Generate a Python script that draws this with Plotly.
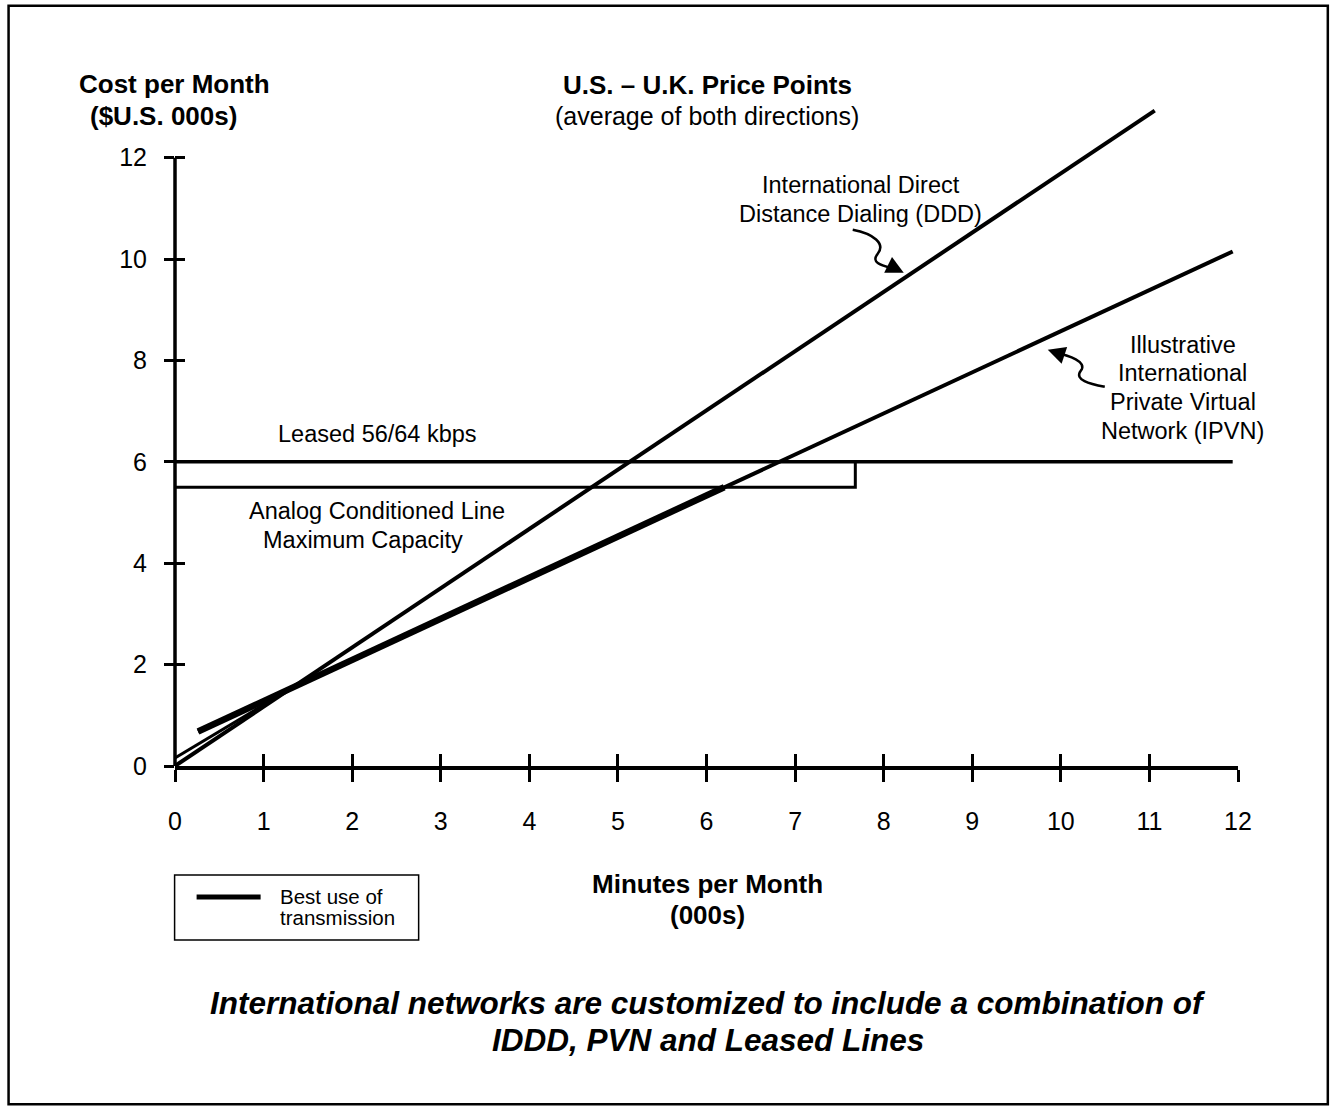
import plotly.graph_objects as go

# ---- data (minutes per month in 000s, cost per month in $US 000s) ----
ddd_minutes = [0, 11.06]
ddd_cost = [0, 12.93]

ipvn_minutes = [0.26, 11.94]
ipvn_cost = [0.68, 10.15]

leased_minutes = [0, 11.94]
leased_cost = [6.0, 6.0]

analog_minutes = [0, 7.68, 7.68]
analog_cost = [5.5, 5.5, 6.0]

# best use of transmission: low-volume dialing, then the PVN up to the analog line
best_low_minutes = [0, 1.3]
best_low_cost = [0.16, 1.52]
best_minutes = [0.26, 6.2]
best_cost = [0.68, 5.5]

x_ticks = list(range(0, 13))
y_ticks = list(range(0, 13, 2))

# ---- page geometry ----
W_PX, H_PX = 1332, 1108
L, R = 175.4, 1238.2
T, B = 107.3, 766.0
PW, PH = R - L, B - T


def px(x):
    return (x - L) / PW


def py(y):
    return (B - y) / PH


FONT = "Liberation Sans, Arial, Helvetica, sans-serif"
BLACK = "#000000"

fig = go.Figure()

fig.add_trace(go.Scatter(x=leased_minutes, y=leased_cost, mode="lines",
                         line=dict(color=BLACK, width=3.5), showlegend=False))
fig.add_trace(go.Scatter(x=analog_minutes, y=analog_cost, mode="lines",
                         line=dict(color=BLACK, width=3), showlegend=False))
fig.add_trace(go.Scatter(x=ddd_minutes, y=ddd_cost, mode="lines",
                         line=dict(color=BLACK, width=4), showlegend=False))
fig.add_trace(go.Scatter(x=ipvn_minutes, y=ipvn_cost, mode="lines",
                         line=dict(color=BLACK, width=4), showlegend=False))
fig.add_trace(go.Scatter(x=best_low_minutes, y=best_low_cost, mode="lines",
                         line=dict(color=BLACK, width=3), showlegend=False))
fig.add_trace(go.Scatter(x=best_minutes, y=best_cost, mode="lines",
                         line=dict(color=BLACK, width=6.5), showlegend=False))
# carrier for the crossing tick marks
fig.add_trace(go.Scatter(x=[None], y=[None], xaxis="x2", yaxis="y2",
                         showlegend=False, hoverinfo="skip"))

fig.update_layout(
    width=W_PX, height=H_PX,
    margin=dict(l=L, r=W_PX - R, t=T, b=H_PX - B, pad=0),
    paper_bgcolor="white", plot_bgcolor="white",
    font=dict(family=FONT, color=BLACK),
    showlegend=False,
    xaxis=dict(range=[0, 12], tickvals=x_ticks, ticks="outside", ticklen=12,
               tickwidth=3, tickcolor=BLACK, showline=True, linewidth=4,
               linecolor=BLACK, showgrid=False, zeroline=False,
               tickfont=dict(size=25, family=FONT), ticklabelstandoff=18),
    xaxis2=dict(range=[0, 12], tickvals=x_ticks, ticks="inside", ticklen=12,
                tickwidth=3, tickcolor=BLACK, overlaying="x", anchor="y2",
                showticklabels=False, showline=False, showgrid=False,
                zeroline=False),
    yaxis=dict(range=[0, 13], tickvals=y_ticks, ticks="outside", ticklen=10,
               tickwidth=3, tickcolor=BLACK, showline=False, showgrid=False,
               zeroline=False, tickfont=dict(size=25, family=FONT),
               ticklabelstandoff=12),
    yaxis2=dict(range=[0, 13], tickvals=y_ticks, ticks="inside", ticklen=10,
                tickwidth=3, tickcolor=BLACK, overlaying="y", anchor="x2",
                showticklabels=False, showline=False, showgrid=False,
                zeroline=False),
)

shapes = [
    # vertical cost axis, running up to the last tick only
    dict(type="line", xref="paper", yref="y", x0=0, x1=0, y0=0, y1=12,
         line=dict(color=BLACK, width=3.5)),
    # outer frame
    dict(type="rect", xref="paper", yref="paper", x0=px(9), x1=px(1328),
         y0=py(1104), y1=py(6), line=dict(color=BLACK, width=2.5)),
    # key box
    dict(type="rect", xref="paper", yref="paper", x0=px(175), x1=px(419),
         y0=py(940), y1=py(875), line=dict(color=BLACK, width=1.5)),
    dict(type="line", xref="paper", yref="paper", x0=px(197), x1=px(261),
         y0=py(897), y1=py(897), line=dict(color=BLACK, width=5)),
]


def path_from_px(points):
    # points: list of ("M"/"C"/"S"/"L", [(x, y), ...]) in page pixels
    parts = []
    for cmd, pts in points:
        coords = " ".join(f"{px(x):.5f},{py(y):.5f}" for x, y in pts)
        parts.append(f"{cmd} {coords}")
    return " ".join(parts)


# squiggly pointer to the dialing line
shapes.append(dict(type="path", xref="paper", yref="paper",
                   path=path_from_px([("M", [(853, 230)]),
                                      ("C", [(874, 234), (886, 244), (878, 254)]),
                                      ("S", [(884, 266), (897, 270)])]),
                   line=dict(color=BLACK, width=2.5)))
# squiggly pointer to the PVN line
shapes.append(dict(type="path", xref="paper", yref="paper",
                   path=path_from_px([("M", [(1105, 387)]),
                                      ("C", [(1090, 384), (1074, 380), (1081, 371)]),
                                      ("S", [(1070, 356), (1053, 352)])]),
                   line=dict(color=BLACK, width=2.5)))
fig.update_layout(shapes=shapes)

annotations = []


def label(text, x, y, size=23, bold=False, italic=False, xanchor="center"):
    t = text
    if bold:
        t = f"<b>{t}</b>"
    if italic:
        t = f"<i>{t}</i>"
    annotations.append(dict(text=t, x=px(x), y=py(y), xref="paper", yref="paper",
                            xanchor=xanchor, yanchor="middle", showarrow=False,
                            font=dict(size=size, family=FONT, color=BLACK)))


label("Cost per Month", 175, 84, size=26, bold=True)
label("($U.S. 000s)", 164, 116, size=26, bold=True)
label("U.S. \u2013 U.K. Price Points", 708, 85, size=26, bold=True)
label("(average of both directions)", 707, 116, size=25)
label("International Direct", 861, 185, size=23.5)
label("Distance Dialing (DDD)", 861, 214, size=23.5)
label("Illustrative", 1183, 345, size=23.5)
label("International", 1183, 373, size=23.5)
label("Private Virtual", 1183, 402, size=23.5)
label("Network (IPVN)", 1183, 431, size=23.5)
label("Leased 56/64 kbps", 378, 434, size=23.5)
label("Analog Conditioned Line", 377, 511, size=23.5)
label("Maximum Capacity", 363, 540, size=23.5)
label("Minutes per Month", 708, 884, size=26, bold=True)
label("(000s)", 708, 915, size=26, bold=True)
label("Best use of", 278, 896, size=20.5, xanchor="left")
label("transmission", 278, 917, size=20.5, xanchor="left")
label("International networks are customized to include a combination of",
      708, 1003, size=31.5, bold=True, italic=True)
label("IDDD, PVN and Leased Lines", 708, 1040, size=31.5, bold=True, italic=True)

# arrowheads at the ends of the squiggly pointers
annotations.append(dict(x=px(904), y=py(273), xref="paper", yref="paper",
                        ax=-14, ay=-7, showarrow=True, arrowhead=2,
                        arrowsize=1.4, arrowwidth=2.5, arrowcolor=BLACK, text=""))
annotations.append(dict(x=px(1048), y=py(350), xref="paper", yref="paper",
                        ax=12, ay=4, showarrow=True, arrowhead=2,
                        arrowsize=1.4, arrowwidth=2.5, arrowcolor=BLACK, text=""))
fig.update_layout(annotations=annotations)

fig.write_html("out.html")
